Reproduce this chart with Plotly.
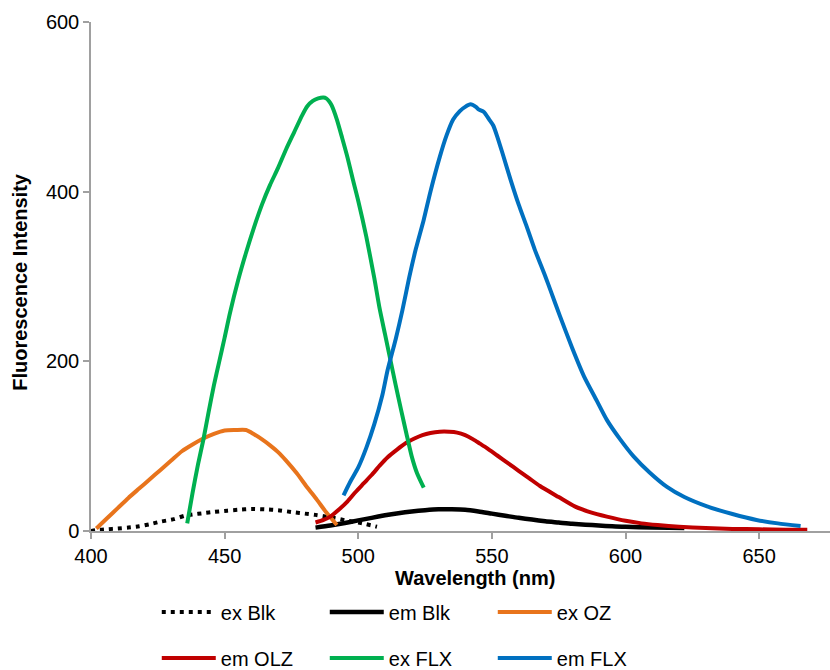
import plotly.graph_objects as go

# Excitation / emission spectra (wavelength in nm, fluorescence intensity)
ex_blk_wl = [400, 402, 406, 410, 414, 418, 422, 426, 431, 435, 438, 442, 446, 451, 455, 460,
             465, 470, 476, 480, 484, 490, 496, 500, 503, 507]
ex_blk = [0, 1, 2, 3, 4, 5.5, 8, 11, 14, 18, 19.5, 21, 22.5, 24, 25, 26,
          25.5, 24.5, 22, 20.5, 19, 16, 12, 10, 8, 5]

em_blk_wl = [484, 489.5, 495, 500, 505, 510, 515, 520, 525, 530, 535, 540, 545, 550, 555,
             560, 565, 570, 575, 580, 585, 590, 595, 600, 610, 622]
em_blk = [4, 6.5, 9.5, 12.5, 15.5, 18.5, 21, 23, 24.5, 25.5, 25.5, 25, 23, 20.5, 18,
          15.5, 13.5, 11.5, 10, 8.5, 7.5, 6.5, 5.5, 5, 4, 3.5]

ex_oz_wl = [402, 406, 410, 414, 418, 422, 426, 430, 434, 438, 442, 446, 450, 454, 458,
            461, 464, 467, 470, 473, 477, 481, 484.5, 488, 492]
ex_oz = [3, 15, 27, 39, 50, 61, 72, 83, 94, 102, 109, 114.5, 118.5, 119, 119,
         114, 108, 101, 93, 83, 68, 51, 37, 22, 7]

em_olz_wl = [484, 487, 489.5, 493, 496, 499, 502, 505, 508, 511, 514.5, 518, 521, 524, 527,
             530.5, 534, 537, 540, 543, 545.5, 548, 552, 556, 560, 564, 568, 575, 581, 587,
             593, 600, 606, 612, 620, 630, 640, 650, 660, 668]
em_olz = [10, 13, 17, 26, 35, 46, 56, 66, 77, 87, 96, 104, 109, 113, 115.5,
          117, 117, 116, 113, 108, 103, 98, 89, 80, 71, 62, 53, 40, 29, 22,
          17, 12, 9, 7, 5, 3.5, 2.5, 2, 1.5, 1.5]

ex_flx_wl = [436, 438, 440, 442, 444, 446, 448, 450, 452, 455, 458, 461, 464, 467, 470,
             473, 476, 479, 481, 483, 485, 487, 488, 489, 490, 492, 494, 496, 498, 500,
             503, 506, 508, 510, 512, 514, 516, 518, 520, 522, 524.5]
ex_flx = [9, 45, 78, 107, 140, 172, 200, 228, 257, 295, 328, 358, 385, 408, 428,
          450, 470, 490, 501, 507, 510, 511, 510, 507, 502, 485, 463, 440, 414, 389,
          347, 298, 262, 232, 202, 172, 143, 115, 88, 68, 51]

em_flx_wl = [494.5, 497, 500, 503, 506, 509, 511, 514, 516.5, 519, 521.5, 524.5, 527, 530.5,
             533, 535.5, 538, 540, 542, 544, 545, 547, 549, 550.5, 552, 554, 557, 560, 563,
             566, 570, 572, 575.5, 580, 584.5, 589, 593, 598, 603, 609, 615.5, 622, 630.5,
             640, 649, 657, 665.5]
em_flx = [42, 58, 75, 98, 126, 160, 190, 226, 260, 298, 332, 367, 400, 441,
          466, 485, 495, 500, 503, 500, 497, 494, 485, 478, 465, 445, 414, 385, 359,
          332, 300, 283, 253, 216, 182, 155, 131, 108, 88, 69, 52, 40, 29,
          20, 13, 9, 6]

series = [
    ("ex Blk", ex_blk_wl, ex_blk, "#000000", "4px,5px", "legend"),
    ("em Blk", em_blk_wl, em_blk, "#000000", "solid", "legend"),
    ("ex OZ", ex_oz_wl, ex_oz, "#E8741C", "solid", "legend"),
    ("em OLZ", em_olz_wl, em_olz, "#C00000", "solid", "legend2"),
    ("ex FLX", ex_flx_wl, ex_flx, "#00B050", "solid", "legend2"),
    ("em FLX", em_flx_wl, em_flx, "#0070C0", "solid", "legend2"),
]

FONT = "Liberation Sans, Arial, sans-serif"

fig = go.Figure()
for name, wl, val, color, dash, leg in series:
    fig.add_trace(go.Scatter(
        x=wl, y=val, name=name, mode="lines",
        line=dict(color=color, width=4.5 if name == "em Blk" else 4, dash=dash,
                  shape="spline", smoothing=0.6),
        legend=leg,
    ))

legend_common = dict(
    orientation="h", xanchor="left", yanchor="middle",
    entrywidth=99, entrywidthmode="pixels", itemwidth=54,
    font=dict(family=FONT, size=20, color="#000000"),
    bgcolor="rgba(0,0,0,0)", tracegroupgap=0,
)

fig.update_layout(
    width=830, height=670,
    margin=dict(l=91, r=0, t=22, b=139),
    paper_bgcolor="white", plot_bgcolor="white",
    font=dict(family=FONT, size=20, color="#000000"),
    legend=dict(x=0.089, y=-0.159, **legend_common),
    legend2=dict(x=0.089, yref="container", y=0.018, **legend_common),
    xaxis=dict(
        range=[400, 676.5], tick0=400, dtick=50,
        showline=True, linecolor="#A0A0A0", linewidth=1.5,
        ticks="outside", ticklen=6, tickcolor="#A0A0A0", tickwidth=1.5,
        showgrid=False, zeroline=False,
        tickfont=dict(family=FONT, size=20, color="#000000"),
    ),
    yaxis=dict(
        range=[0, 600], tick0=0, dtick=200,
        showline=True, linecolor="#A0A0A0", linewidth=1.5,
        ticks="outside", ticklen=6, tickcolor="#A0A0A0", tickwidth=1.5,
        showgrid=False, zeroline=False,
        tickfont=dict(family=FONT, size=20, color="#000000"),
    ),
    annotations=[
        dict(text="<b>Wavelength (nm)</b>", xref="paper", yref="paper",
             x=0.519, y=-0.0923, xanchor="center", yanchor="middle",
             showarrow=False, font=dict(family=FONT, size=20, color="#000000")),
        dict(text="<b>Fluorescence Intensity</b>", xref="paper", yref="paper",
             x=-0.0965, y=0.489, xanchor="center", yanchor="middle", textangle=-90,
             showarrow=False, font=dict(family=FONT, size=20, color="#000000")),
    ],
)

fig.write_html("out.html")
